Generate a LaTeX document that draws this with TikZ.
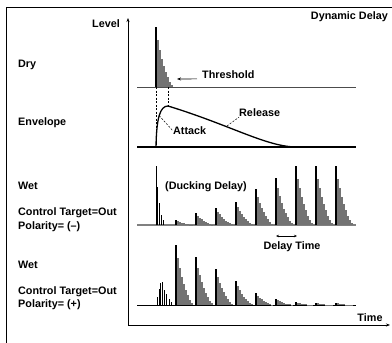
\documentclass[tikz,border=0pt]{standalone}
\usepackage{fontspec}
\setmainfont{Liberation Sans}
\usetikzlibrary{arrows.meta, positioning}

\newcommand{\spikegroup}[3]{%
  \foreach \f [count=\i from 0] in {1,.78,.62,.47,.35,.25,.16,.09,.04}
    {\draw[spk] ({#1+2*\i},{#2}) -- ++(0,{-#3*\f});}
  \draw[spk, black] ({#1},{#2}) -- ++(0,{-#3});
}

\begin{document}
\begin{tikzpicture}[x=1pt, y=-1pt,
  lbl/.style={font=\fontsize{10.8}{12}\selectfont\bfseries, inner sep=0pt},
  spk/.style={line width=1.3pt, black!55},
  tick/.style={line width=0.6pt, black},
  arrow/.style={-{Stealth[length=4pt, width=3pt]}, line width=0.7pt},
  twoway/.style={{Stealth[length=3pt, width=2.5pt]}-{Stealth[length=3pt, width=2.5pt]}, line width=0.6pt},
  leader/.style={dash pattern=on 2pt off 1.5pt, line width=0.5pt},
]
  \clip (0,0) rectangle (392,343);
  \draw[line width=1pt] (6,347) -- (6,7) -- (396,7);

  \coordinate (origin) at (128,325);
  \coordinate (ytop) at (128,18);
  \coordinate (xend) at (390,325);
  \draw[arrow] (origin) -- (ytop);
  \draw[arrow] (origin) -- (xend);

  \node[lbl, anchor=east] (level) at (120,24) {Level};
  \node[lbl, anchor=east] (title) at (388,17) {Dynamic Delay};
  \node[lbl] (time) at (370,318) {Time};

  \node[lbl, anchor=west] (dry) at (18,65) {Dry};
  \node[lbl, anchor=west] (env) at (18,123) {Envelope};
  \node[lbl, anchor=west] (wetneg) at (18,186) {Wet};
  \node[lbl, anchor=west] (ctneg) at (18,213) {Control Target=Out};
  \node[lbl, anchor=west] (polneg) at (18,227) {Polarity= (--)};
  \node[lbl, anchor=west] (wetpos) at (18,265) {Wet};
  \node[lbl, anchor=west] (ctpos) at (18,292) {Control Target=Out};
  \node[lbl, anchor=west] (polpos) at (18,305) {Polarity= (+)};

  \draw[line width=0.8pt, black!70] (137,87) -- (356,87);
  \spikegroup{156}{87}{60}
  \node[lbl, anchor=west] (thresh) at (202,75) {Threshold};
  \coordinate (thrtip) at (177,79);
  \draw[arrow] ([xshift=-5pt]thresh.base west) -- (thrtip);

  \draw[leader] (156,87) -- (156,147);
  \draw[leader] (168,87) -- (168,106);

  \draw[line width=1.3pt] (137,147) -- (356,147);
  \draw[line width=1.3pt] (156,147) .. controls (156.5,118) and (160,106) .. (168,106)
    .. controls (230,125) and (265,146) .. (295,147);
  \node[lbl, anchor=west] (att) at (173,131) {Attack};
  \node[lbl, anchor=west] (rel) at (239,113) {Release};
  \coordinate (attpt) at (159.2,115.6);
  \coordinate (relpt) at (227,126);
  \draw[leader] (attpt) -- (att.west);
  \draw[leader] (relpt) -- (rel.south west);

  \draw[line width=1.2pt, black!50] (137,225) -- (356,225);
  \foreach \x/\h in {156/59, 157.7/38, 159.4/22, 161.1/10, 162.8/5}
    {\draw[tick] (\x,225) -- ++(0,-\h);}
  \foreach \h [count=\k] in {5,12,17,23,36,47,59,59,59}
    {\spikegroup{156+20*\k}{225}{\h}}
  \node[lbl, anchor=west] (duck) at (165,187) {(Ducking Delay)};
  \coordinate (dtleft) at (276,236);
  \coordinate (dtright) at (297,236);
  \draw[twoway] (dtleft) -- (dtright);
  \node[lbl] (dtime) at (292,247) {Delay Time};

  \draw[line width=0.8pt] (137,305) -- (356,305);
  \foreach \x/\h in {157.3/8, 159/16, 160.7/22, 162.7/23, 164.3/15, 166.7/11, 169/6, 171/3}
    {\draw[tick] (\x,305) -- ++(0,-\h);}
  \foreach \h [count=\k] in {60,48,36,24,12,6,3,2,2}
    {\spikegroup{156+20*\k}{305}{\h}}
\end{tikzpicture}
\end{document}
